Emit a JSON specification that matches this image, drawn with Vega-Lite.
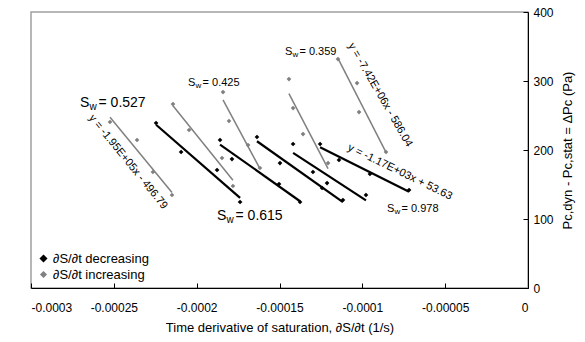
{
  "$schema": "https://vega.github.io/schema/vega-lite/v6.json",
  "width": 497,
  "height": 276,
  "autosize": {"type": "none"},
  "padding": {"left": 31, "top": 12, "right": 57, "bottom": 54},
  "background": "white",
  "config": {
    "font": "Liberation Sans",
    "view": {"stroke": "#a0a0a0", "strokeWidth": 1.5}
  },
  "datasets": {
    "pts": [
      {"series": "G1", "trend": "∂S/∂t increasing", "x": -0.0002523, "y": 240.6},
      {"series": "G1", "trend": "∂S/∂t increasing", "x": -0.0002360, "y": 214.5},
      {"series": "G1", "trend": "∂S/∂t increasing", "x": -0.0002264, "y": 168.1},
      {"series": "G1", "trend": "∂S/∂t increasing", "x": -0.0002149, "y": 134.8},
      {"series": "G2", "trend": "∂S/∂t increasing", "x": -0.0002143, "y": 266.6},
      {"series": "G2", "trend": "∂S/∂t increasing", "x": -0.0002046, "y": 229.0},
      {"series": "G2", "trend": "∂S/∂t increasing", "x": -0.0001847, "y": 188.4},
      {"series": "G2", "trend": "∂S/∂t increasing", "x": -0.0001781, "y": 147.8},
      {"series": "G3", "trend": "∂S/∂t increasing", "x": -0.0001841, "y": 284.0},
      {"series": "G3", "trend": "∂S/∂t increasing", "x": -0.0001805, "y": 242.0},
      {"series": "G3", "trend": "∂S/∂t increasing", "x": -0.0001690, "y": 207.2},
      {"series": "G3", "trend": "∂S/∂t increasing", "x": -0.0001618, "y": 173.9},
      {"series": "G4", "trend": "∂S/∂t increasing", "x": -0.0001443, "y": 302.8},
      {"series": "G4", "trend": "∂S/∂t increasing", "x": -0.0001418, "y": 260.8},
      {"series": "G4", "trend": "∂S/∂t increasing", "x": -0.0001358, "y": 223.1},
      {"series": "G4", "trend": "∂S/∂t increasing", "x": -0.0001207, "y": 181.1},
      {"series": "G5", "trend": "∂S/∂t increasing", "x": -0.0001147, "y": 331.8},
      {"series": "G5", "trend": "∂S/∂t increasing", "x": -0.0001032, "y": 297.0},
      {"series": "G5", "trend": "∂S/∂t increasing", "x": -0.0001020, "y": 255.0},
      {"series": "G5", "trend": "∂S/∂t increasing", "x": -0.0000857, "y": 197.1},
      {"series": "B1", "trend": "∂S/∂t decreasing", "x": -0.0002245, "y": 239.1},
      {"series": "B1", "trend": "∂S/∂t decreasing", "x": -0.0002094, "y": 197.1},
      {"series": "B1", "trend": "∂S/∂t decreasing", "x": -0.0001877, "y": 171.0},
      {"series": "B1", "trend": "∂S/∂t decreasing", "x": -0.0001738, "y": 124.6},
      {"series": "B2", "trend": "∂S/∂t decreasing", "x": -0.0001859, "y": 214.5},
      {"series": "B2", "trend": "∂S/∂t decreasing", "x": -0.0001787, "y": 186.9},
      {"series": "B2", "trend": "∂S/∂t decreasing", "x": -0.0001503, "y": 150.7},
      {"series": "B2", "trend": "∂S/∂t decreasing", "x": -0.0001376, "y": 124.6},
      {"series": "B3", "trend": "∂S/∂t decreasing", "x": -0.0001636, "y": 218.8},
      {"series": "B3", "trend": "∂S/∂t decreasing", "x": -0.0001497, "y": 181.1},
      {"series": "B3", "trend": "∂S/∂t decreasing", "x": -0.0001243, "y": 144.9},
      {"series": "B3", "trend": "∂S/∂t decreasing", "x": -0.0001117, "y": 127.5},
      {"series": "B4", "trend": "∂S/∂t decreasing", "x": -0.0001418, "y": 208.7},
      {"series": "B4", "trend": "∂S/∂t decreasing", "x": -0.0001298, "y": 168.1},
      {"series": "B4", "trend": "∂S/∂t decreasing", "x": -0.0001213, "y": 152.1},
      {"series": "B4", "trend": "∂S/∂t decreasing", "x": -0.0000978, "y": 134.8},
      {"series": "B5", "trend": "∂S/∂t decreasing", "x": -0.0001255, "y": 208.7},
      {"series": "B5", "trend": "∂S/∂t decreasing", "x": -0.0001141, "y": 185.5},
      {"series": "B5", "trend": "∂S/∂t decreasing", "x": -0.0000954, "y": 165.2},
      {"series": "B5", "trend": "∂S/∂t decreasing", "x": -0.0000718, "y": 142.0}
    ],
    "labelsBig": [
      {"s": "S", "w": "w", "rest": "= 0.527", "x": -0.0002704, "y": 268},
      {"s": "S", "w": "w", "rest": "= 0.615", "x": -0.0001877, "y": 104}
    ],
    "labelsSmall": [
      {"s": "S", "w": "w", "rest": "= 0.425", "x": -0.0002052, "y": 297},
      {"s": "S", "w": "w", "rest": "= 0.359", "x": -0.0001467, "y": 342},
      {"s": "S", "w": "w", "rest": "= 0.978", "x": -0.0000851, "y": 114.5}
    ],
    "eqs": [
      {"text": "y = -1.95E+05x - 496.79", "x": -0.0002414, "y": 182.6, "angle": 51},
      {"text": "y = -7.42E+06x - 586.04", "x": -0.0000893, "y": 279.7, "angle": 60},
      {"text": "y = -1.17E+03x + 53.63", "x": -0.0000773, "y": 168, "angle": 26}
    ]
  },
  "layer": [
    {
      "data": {"name": "pts"},
      "transform": [{"regression": "y", "on": "x", "groupby": ["series", "trend"]}],
      "mark": {"type": "line"},
      "encoding": {
        "x": {"field": "x", "type": "quantitative", "scale": {"domain": [-0.0003, 0], "nice": false, "zero": false},
          "axis": {
            "values": [-0.0003, -0.00025, -0.0002, -0.00015, -0.0001, -0.00005, 0],
            "format": "~g",
            "labelExpr": "replace(datum.label, '\u2212', '-')",
            "title": "Time derivative of saturation, ∂S/∂t (1/s)",
            "titleFontSize": 13, "titleFontWeight": "normal", "titleColor": "black", "titlePadding": 8,
            "labelFontSize": 12, "labelColor": "black", "labelPadding": 19,
            "domainColor": "black", "tickColor": "black", "tickSize": -5, "grid": false
          }},
        "y": {"field": "y", "type": "quantitative", "scale": {"domain": [0, 400], "nice": false},
          "axis": {
            "orient": "right",
            "values": [0, 100, 200, 300, 400],
            "title": "Pc,dyn - Pc,stat = ΔPc (Pa)",
            "titleAngle": -90, "titleBaseline": "top", "titleFontSize": 13, "titleFontWeight": "normal", "titleColor": "black", "titlePadding": 8,
            "labelFontSize": 12, "labelColor": "black", "labelPadding": 10,
            "domainColor": "black", "tickColor": "black", "tickSize": -5, "grid": false
          }},
        "color": {"field": "trend", "type": "nominal", "scale": {"domain": ["∂S/∂t decreasing", "∂S/∂t increasing"], "range": ["#000000", "#808080"]},
          "legend": {"title": null, "orient": "bottom-left", "offset": 6, "padding": 0, "labelFontSize": 13, "labelColor": "black", "symbolSize": 25, "rowPadding": 2, "symbolType": "diamond", "symbolStrokeWidth": 0, "labelOffset": 3}},
        "strokeWidth": {"field": "trend", "type": "nominal", "scale": {"domain": ["∂S/∂t decreasing", "∂S/∂t increasing"], "range": [2.2, 1.5]}, "legend": null},
        "detail": {"field": "series"}
      }
    },
    {
      "data": {"name": "pts"},
      "mark": {"type": "point", "shape": "diamond", "filled": true, "size": 22, "opacity": 1},
      "encoding": {
        "x": {"field": "x", "type": "quantitative"},
        "y": {"field": "y", "type": "quantitative"},
        "color": {"field": "trend", "type": "nominal",
          "legend": {"title": null, "orient": "bottom-left", "offset": 6, "padding": 0, "labelFontSize": 13, "labelColor": "black", "symbolSize": 25, "rowPadding": 2, "symbolType": "diamond", "symbolStrokeWidth": 0, "labelOffset": 3}}
      }
    },
    {
      "data": {"name": "labelsBig"},
      "mark": {"type": "text", "align": "left", "baseline": "middle", "color": "black", "fontSize": 14},
      "encoding": {
        "x": {"field": "x", "type": "quantitative"},
        "y": {"field": "y", "type": "quantitative"},
        "text": {"field": "s"}
      }
    },
    {
      "data": {"name": "labelsBig"},
      "mark": {"type": "text", "align": "left", "baseline": "middle", "color": "black", "fontSize": 10, "dx": 9.5, "dy": 4},
      "encoding": {
        "x": {"field": "x", "type": "quantitative"},
        "y": {"field": "y", "type": "quantitative"},
        "text": {"field": "w"}
      }
    },
    {
      "data": {"name": "labelsBig"},
      "mark": {"type": "text", "align": "left", "baseline": "middle", "color": "black", "fontSize": 14, "dx": 18.5},
      "encoding": {
        "x": {"field": "x", "type": "quantitative"},
        "y": {"field": "y", "type": "quantitative"},
        "text": {"field": "rest"}
      }
    },
    {
      "data": {"name": "labelsSmall"},
      "mark": {"type": "text", "align": "left", "baseline": "middle", "color": "black", "fontSize": 11},
      "encoding": {
        "x": {"field": "x", "type": "quantitative"},
        "y": {"field": "y", "type": "quantitative"},
        "text": {"field": "s"}
      }
    },
    {
      "data": {"name": "labelsSmall"},
      "mark": {"type": "text", "align": "left", "baseline": "middle", "color": "black", "fontSize": 8, "dx": 7.5, "dy": 3},
      "encoding": {
        "x": {"field": "x", "type": "quantitative"},
        "y": {"field": "y", "type": "quantitative"},
        "text": {"field": "w"}
      }
    },
    {
      "data": {"name": "labelsSmall"},
      "mark": {"type": "text", "align": "left", "baseline": "middle", "color": "black", "fontSize": 11, "dx": 14.5},
      "encoding": {
        "x": {"field": "x", "type": "quantitative"},
        "y": {"field": "y", "type": "quantitative"},
        "text": {"field": "rest"}
      }
    },
    {
      "data": {"name": "eqs"},
      "mark": {"type": "text", "align": "center", "baseline": "middle", "color": "black", "fontSize": 11},
      "encoding": {
        "x": {"field": "x", "type": "quantitative"},
        "y": {"field": "y", "type": "quantitative"},
        "text": {"field": "text"},
        "angle": {"field": "angle", "type": "quantitative", "scale": null}
      }
    }
  ]
}
